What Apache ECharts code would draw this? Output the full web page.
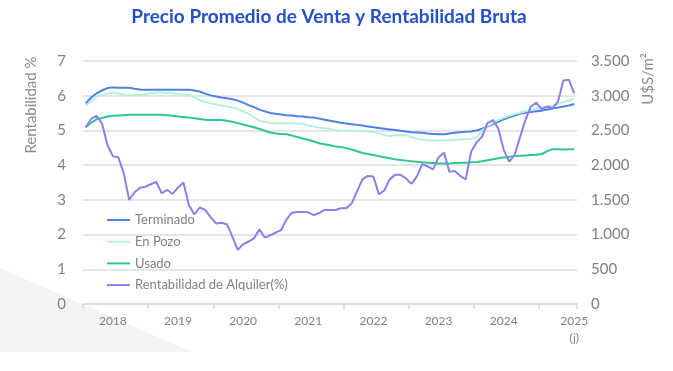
<!DOCTYPE html>
<html>
<head>
<meta charset="utf-8">
<script src="https://cdn.jsdelivr.net/npm/echarts@6/dist/echarts.min.js"></script>
<style>
html,body{margin:0;padding:0;background:#fff;}
#chart{width:673px;height:371px;}
</style>
</head>
<body>
<div id="chart"></div>
<script>
// ---- data (monthly, Jan 2018 - Jul 2025) ----
const years = ['2018','2019','2020','2021','2022','2023','2024','2025'];
const lastMonth2025 = 7;
const categories = [];
years.forEach(y => {
  for (let m = 1; m <= 12; m++) {
    if (y === '2025' && m > lastMonth2025) break;
    categories.push(y + '-' + String(m).padStart(2, '0'));
  }
});

// x tick labels (category index -> text)
const xLabelIndex = [5, 17, 29, 41, 53, 65, 77, 90];
const xLabelText  = ['2018','2019','2020','2021','2022','2023','2024','2025\n(j)'];

// left axis ticks (%), right axis ticks (US$/m2)
const leftTicks  = [0, 1, 2, 3, 4, 5, 6, 7];
const rightTicks = [0, 500, 1000, 1500, 2000, 2500, 3000, 3500];

// Precio promedio de venta (US$/m2)
const terminado = [
  2890,2975,3035,3075,3110,3120,3115,3115,3115,3100,3090,3085,
  3085,3085,3085,3085,3085,3085,3085,3085,3075,3060,3030,3005,
  2990,2975,2965,2950,2930,2900,2865,2835,2800,2775,2750,2740,
  2730,2720,2715,2705,2700,2690,2685,2670,2655,2640,2625,2610,
  2600,2590,2580,2570,2555,2545,2535,2525,2515,2505,2495,2485,
  2475,2470,2465,2455,2450,2445,2445,2455,2465,2475,2480,2485,
  2500,2525,2555,2590,2625,2660,2690,2715,2740,2755,2765,2775,
  2785,2800,2815,2830,2845,2860,2880
];
const enPozo = [
  2855,2925,2985,3010,3030,3045,3035,3015,3010,3010,3010,3020,
  3035,3045,3045,3040,3035,3025,3015,3010,2975,2935,2910,2890,
  2875,2860,2845,2830,2810,2775,2740,2690,2640,2620,2610,2605,
  2605,2605,2605,2600,2595,2575,2555,2540,2530,2520,2505,2495,
  2495,2495,2490,2490,2485,2480,2460,2435,2420,2430,2435,2430,
  2405,2380,2365,2360,2355,2355,2355,2360,2365,2370,2375,2380,
  2400,2500,2560,2610,2650,2680,2710,2735,2755,2775,2795,2815,
  2830,2845,2860,2880,2905,2930,2965
];
const usado = [
  2545,2610,2660,2680,2700,2710,2715,2720,2725,2725,2725,2725,
  2725,2725,2725,2720,2710,2700,2695,2685,2675,2665,2655,2650,
  2650,2650,2640,2625,2605,2585,2565,2545,2520,2495,2470,2455,
  2450,2445,2425,2405,2385,2365,2340,2315,2300,2285,2270,2260,
  2245,2225,2200,2175,2160,2145,2130,2115,2100,2085,2075,2065,
  2055,2050,2040,2035,2030,2025,2025,2025,2030,2035,2035,2040,
  2045,2055,2070,2085,2100,2110,2120,2130,2135,2140,2145,2150,
  2160,2200,2230,2230,2225,2230,2230
];
// Rentabilidad de alquiler (%)
const rentabilidad = [
  5.09,5.33,5.42,5.20,4.58,4.26,4.23,3.77,3.00,3.22,3.35,3.38,
  3.45,3.52,3.19,3.29,3.17,3.35,3.50,2.85,2.58,2.78,2.71,2.50,
  2.32,2.34,2.30,1.95,1.56,1.72,1.80,1.89,2.15,1.91,1.98,2.06,
  2.13,2.44,2.63,2.65,2.65,2.64,2.56,2.62,2.71,2.71,2.71,2.76,
  2.76,2.90,3.25,3.60,3.69,3.67,3.16,3.27,3.59,3.72,3.72,3.62,
  3.46,3.67,4.03,3.96,3.88,4.23,4.36,3.81,3.83,3.69,3.59,4.39,
  4.65,4.82,5.21,5.30,5.06,4.44,4.10,4.29,4.80,5.30,5.69,5.80,
  5.61,5.69,5.64,5.83,6.44,6.46,6.07
];

const seriesNames = ['Terminado','En Pozo','Usado','Rentabilidad de Alquiler(%)'];
const seriesColors = ['#4a82e6','#b4f2dc','#2dc98c','#8b80e6'];

const FONT = 'Lato, "Open Sans", sans-serif';
const GRAY = '#808080';

function fmtThousands(v) {
  if (v >= 1000) return Math.floor(v / 1000) + '.' + String(v % 1000).padStart(3, '0');
  return String(v);
}

const chart = echarts.init(document.getElementById('chart'), null, {renderer: 'canvas'});

const lineSeries = (name, data, yIdx, color) => ({
  name, type: 'line', data, yAxisIndex: yIdx,
  showSymbol: false, symbol: 'none',
  lineStyle: {color, width: 2},
  itemStyle: {color},
  emphasis: {disabled: true},
  animation: false
});

chart.setOption({
  animation: false,
  backgroundColor: '#ffffff',
  textStyle: {fontFamily: FONT},
  graphic: [
    {type: 'polygon', z: -10, silent: true,
     shape: {points: [[0, 268], [192, 352], [0, 352]]},
     style: {fill: '#f4f4f4'}},
    {type: 'text', x: 329, y: 17, z: 10,
     style: {text: 'Precio Promedio de Venta y Rentabilidad Bruta',
             fill: '#2450c8', font: 'bold 19px ' + FONT,
             align: 'center', verticalAlign: 'middle'}},
    {type: 'text', x: 31.5, y: 105, rotation: Math.PI / 2,
     style: {text: 'Rentabilidad %', fill: '#8c8c8c', font: '15px ' + FONT,
             align: 'center', verticalAlign: 'middle'}},
    {type: 'text', x: 648, y: 79, rotation: Math.PI / 2,
     style: {text: 'U$S/m²', fill: '#8c8c8c', font: '15px ' + FONT,
             align: 'center', verticalAlign: 'middle'}}
  ],
  legend: {
    orient: 'vertical', left: 102, top: 208,
    icon: 'rect', itemWidth: 23, itemHeight: 2, itemGap: 7.7,
    textStyle: {color: GRAY, fontSize: 13, fontFamily: FONT, lineHeight: 14},
    data: seriesNames,
    selectedMode: false
  },
  grid: {left: 83, right: 96, top: 61, bottom: 67, containLabel: false},
  xAxis: {
    type: 'category', data: categories, boundaryGap: true,
    axisLine: {lineStyle: {color: '#d9d9d9', width: 1.5}},
    axisTick: {show: true, length: 5, lineStyle: {color: '#d9d9d9', width: 1.5},
               interval: (i) => i % 12 === 0},
    axisLabel: {
      interval: (i) => xLabelIndex.indexOf(i) >= 0,
      formatter: (v, i) => { const k = xLabelIndex.indexOf(i); return k >= 0 ? xLabelText[k] : ''; },
      color: GRAY, fontSize: 12, fontFamily: FONT, lineHeight: 17, margin: 9
    },
    splitLine: {show: false}
  },
  yAxis: [
    {type: 'value', min: leftTicks[0], max: leftTicks[leftTicks.length - 1], interval: 1,
     axisLine: {show: false}, axisTick: {show: false},
     axisLabel: {color: GRAY, fontSize: 15, fontFamily: FONT, margin: 17},
     splitLine: {lineStyle: {color: '#dcdcdc', width: 1.5}}},
    {type: 'value', min: rightTicks[0], max: rightTicks[rightTicks.length - 1], interval: 500,
     position: 'right',
     axisLine: {show: false}, axisTick: {show: false},
     axisLabel: {color: GRAY, fontSize: 15, fontFamily: FONT, margin: 14, formatter: fmtThousands},
     splitLine: {show: false}}
  ],
  series: [
    lineSeries(seriesNames[0], terminado, 1, seriesColors[0]),
    lineSeries(seriesNames[1], enPozo, 1, seriesColors[1]),
    lineSeries(seriesNames[2], usado, 1, seriesColors[2]),
    lineSeries(seriesNames[3], rentabilidad, 0, seriesColors[3])
  ]
});
</script>
</body>
</html>
